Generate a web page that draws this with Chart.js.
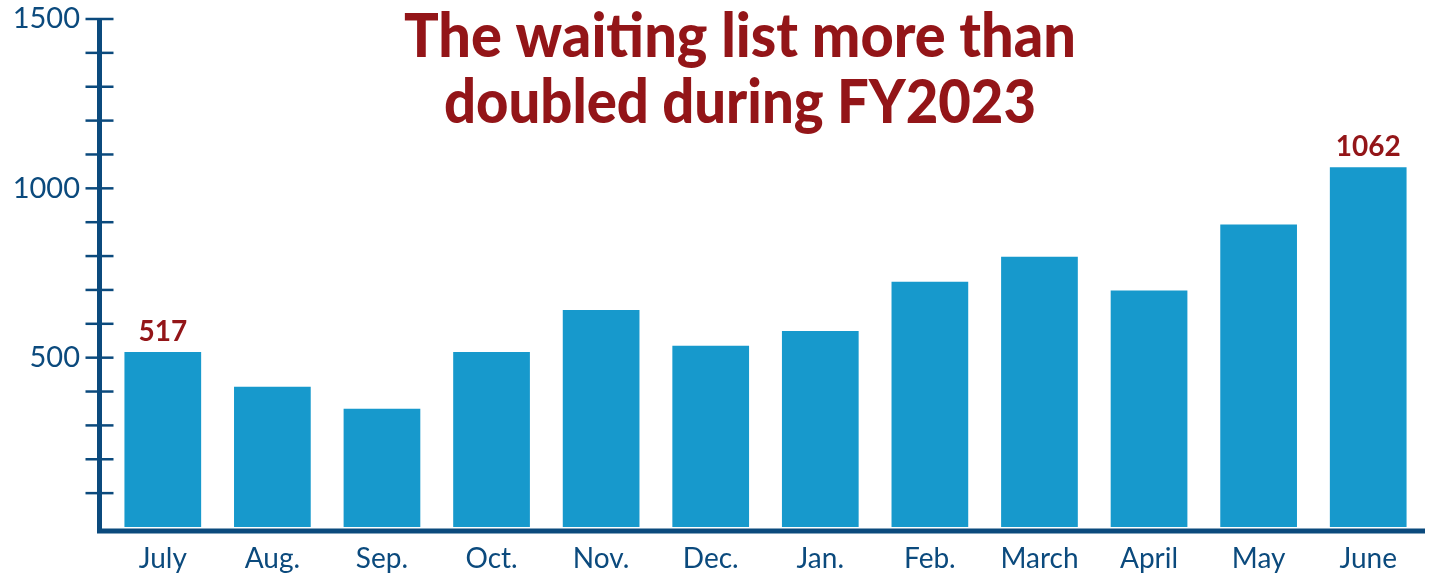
<!DOCTYPE html>
<html>
<head>
<meta charset="utf-8">
<script src="https://cdn.jsdelivr.net/npm/chart.js@4"></script>
<style>
  html, body { margin: 0; padding: 0; background: #fff; }
  #wrap { width: 1429px; height: 577px; }
</style>
</head>
<body>
<div id="wrap"><canvas id="waitingList"></canvas></div>
<script>
const months = ['July', 'Aug.', 'Sep.', 'Oct.', 'Nov.', 'Dec.', 'Jan.', 'Feb.', 'March', 'April', 'May', 'June'];
const waiting = [517, 414, 349, 517, 641, 535, 579, 724, 798, 698, 893, 1062];
const labelled = [0, 11];
const yMajor = [500, 1000, 1500];
const titleLines = ['The waiting list more than', 'doubled during FY2023'];

const navy = '#0b4a7d';
const red = '#931518';

// axis lines, ticks crossing the y axis, value labels and title
const decor = {
    id: 'decor',
    afterDraw(chart) {
        const ctx = chart.ctx;
        const y = chart.scales.y;
        const area = chart.chartArea;
        const axisX = 99.5;
        ctx.save();
        ctx.strokeStyle = navy;
        ctx.lineWidth = 2.5;
        y.ticks.forEach(function (t) {
            if (t.value === 0) return;
            const py = y.getPixelForValue(t.value);
            ctx.beginPath();
            ctx.moveTo(axisX - 14, py);
            ctx.lineTo(axisX + 14, py);
            ctx.stroke();
        });
        ctx.lineWidth = 5;
        ctx.beginPath();
        ctx.moveTo(axisX, y.getPixelForValue(1500));
        ctx.lineTo(axisX, area.bottom + 4);
        ctx.lineTo(area.right + 2, area.bottom + 4);
        ctx.stroke();

        const meta = chart.getDatasetMeta(0);
        ctx.fillStyle = red;
        ctx.font = 'bold 28px Lato';
        ctx.textAlign = 'center';
        ctx.textBaseline = 'alphabetic';
        labelled.forEach(function (i) {
            const bar = meta.data[i];
            ctx.fillText(String(waiting[i]), bar.x, bar.y - 11);
        });

        // condensed heavy title: squeeze Lato Black horizontally
        ctx.font = '900 60px Lato';
        const cx = 740;
        const widths = [672, 592];
        const bases = [57, 123];
        titleLines.forEach(function (line, i) {
            const sx = widths[i] / ctx.measureText(line).width;
            ctx.save();
            ctx.translate(cx, bases[i]);
            ctx.scale(sx, 1);
            ctx.fillText(line, 0, 0);
            ctx.restore();
        });
        ctx.restore();
    }
};

new Chart(document.getElementById('waitingList'), {
    type: 'bar',
    data: {
        labels: months,
        datasets: [{
            data: waiting,
            backgroundColor: '#1799cc',
            barPercentage: 0.7,
            categoryPercentage: 1.0,
        }],
    },
    options: {
        responsive: true,
        maintainAspectRatio: false,
        animation: false,
        layout: { padding: { top: 19, right: 6, left: 0, bottom: 0 } },
        plugins: {
            legend: { display: false },
            tooltip: { enabled: false },
        },
        scales: {
            x: {
                grid: { display: false, drawTicks: false },
                border: { display: false },
                ticks: {
                    color: navy,
                    padding: 15,
                    font: { family: 'Lato', size: 28 },
                },
                afterFit(scale) { scale.height = 50; },
            },
            y: {
                min: 0,
                max: 1500,
                grid: { display: false, drawTicks: false },
                border: { display: false },
                ticks: {
                    stepSize: 100,
                    autoSkip: false,
                    color: navy,
                    padding: 28,
                    font: { family: 'Lato', size: 29 },
                    callback: function (v) {
                        return yMajor.includes(v) ? String(v) : '';
                    },
                },
                afterFit(scale) {
                    scale.width = 108;
                    scale.paddingTop = 0;
                    scale.paddingBottom = 0;
                },
            },
        },
    },
    plugins: [decor],
});
</script>
</body>
</html>
